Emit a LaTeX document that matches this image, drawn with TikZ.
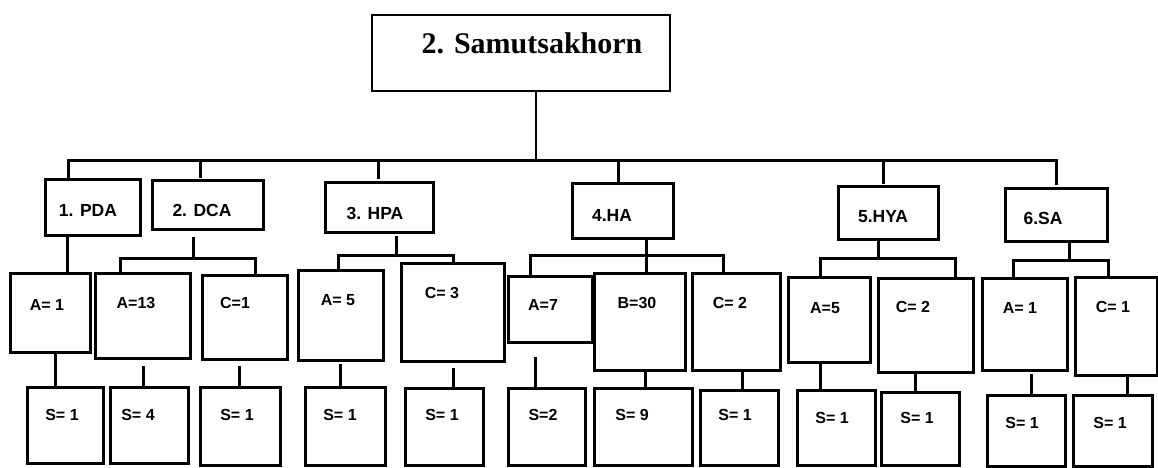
\documentclass[tikz,border=0pt]{standalone}
\usepackage{fontspec}
\setmainfont{Liberation Serif}
\newfontfamily\arial{Liberation Sans}

\begin{document}
\begin{tikzpicture}[x=1pt, y=-1pt]
          \tikzstyle{box} = [rectangle, draw, line width=3pt, inner sep=0pt, outer sep=0pt]
          \tikzstyle{lbl} = [inner sep=0pt, font=\arial\bfseries\fontsize{16}{19}\selectfont]
          \tikzstyle{link} = [line width=3pt, line cap=rect]

          \useasboundingbox (0,0) rectangle (1158,468);

          % Caja principal
          \node[box, line width=2.4pt, minimum width=298pt, minimum height=76pt] (top) at (521,53) {};
          \node[inner sep=0pt, font=\bfseries\fontsize{30}{30}\selectfont] (top-t) at (532,43) {2. Samutsakhorn};

          % Primer nivel
          \foreach \nm/\xa/\ya/\xb/\yb/\tx/\ty/\txt in {
              pda/45/179/140/235/88/210/{1. PDA}, dca/152/180/263/229/202/210/{2. DCA},
              hpa/325/182/433/232/375/213/{3. HPA}, ha/572/183/673/238/612/215/{4.HA},
              hya/838/186/938/239/883/217/{5.HYA}, sa/1005/188/1107/241/1043/218/{6.SA}}
          {
            \node[box, minimum width={(\xb-\xa)*1pt}, minimum height={(\yb-\ya)*1pt}] (\nm) at ({(\xa+\xb)/2},{(\ya+\yb)/2}) {};
            \node[lbl, font=\arial\bfseries\fontsize{17.5}{20}\selectfont] (\nm-t) at (\tx,\ty) {\txt};
          }

          % Segundo nivel
          \foreach \nm/\xa/\ya/\xb/\yb/\tx/\ty/\txt in {
              a1/10/273/90/352/47/305/{A= 1}, a13/95/273/190/358/136/303/{A=13},
              c1/202/275/287/359/235/303/{C=1}, a5/298/270/383/360/338/300/{A= 5},
              c3/401/263/504/361/442/293/{C= 3}, a7/508/276/592/342/543/305/{A=7},
              b30/594/273/685/370/637/303/{B=30}, c2/692/273/780/370/730/303/{C= 2},
              a5b/788/277/870/362/825/308/{A=5}, c2b/878/278/973/372/913/307/{C= 2},
              a1b/982/278/1067/370/1020/308/{A= 1}, c1b/1075/277/1157/375/1113/307/{C= 1}}
          {
            \node[box, minimum width={(\xb-\xa)*1pt}, minimum height={(\yb-\ya)*1pt}] (\nm) at ({(\xa+\xb)/2},{(\ya+\yb)/2}) {};
            \node[lbl] (\nm-t) at (\tx,\ty) {\txt};
          }

          % Tercer nivel
          \foreach \nm/\xa/\ya/\xb/\yb/\tx/\ty/\txt in {
              s1/27/387/103/463/62/415/{S= 1}, s2/110/387/188/463/138/415/{S= 4},
              s3/200/387/280/465/237/415/{S= 1}, s4/305/387/385/465/340/415/{S= 1},
              s5/405/388/483/465/442/415/{S= 1}, s6/508/388/585/465/543/415/{S=2},
              s7/594/388/692/465/632/415/{S= 9}, s8/700/390/778/465/735/415/{S= 1},
              s9/797/390/875/465/832/418/{S= 1}, s10/881/392/959/465/917/418/{S= 1},
              s11/987/395/1065/466/1022/423/{S= 1}, s12/1073/395/1152/466/1110/423/{S= 1}}
          {
            \node[box, minimum width={(\xb-\xa)*1pt}, minimum height={(\yb-\ya)*1pt}] (\nm) at ({(\xa+\xb)/2},{(\ya+\yb)/2}) {};
            \node[lbl] (\nm-t) at (\tx,\ty) {\txt};
          }

          % Tronco y barra horizontal
          \coordinate (trunk) at (536,160);
          \coordinate (bus-l) at (68,160);
          \coordinate (bus-r) at (1056,160);
          \draw[link, line width=2.4pt] (top.south -| trunk) -- (trunk);
          \draw[link] (bus-l) -- (bus-r);
          \foreach \nm/\x/\gap in {pda/68/0, dca/200/4, hpa/378/5, ha/618/3, hya/883/4, sa/1056/5}
            \draw[link, shorten >=\gap pt] (bus-l -| \x,0) -- (\nm.north -| \x,0);

          % Conexiones al segundo nivel
          \draw[link] (pda.south -| 67,0) -- (a1.north -| 67,0);
          \foreach \up/\l/\r/\xl/\xr/\xs/\yb/\gap in {
              dca/a13/c1/120/255/193/258/9, hpa/a5/c3/338/453/396/255/5,
              ha/a7/c2/530/723/646/255/0, hya/a5b/c2b/820/955/878/258/0,
              sa/a1b/c1b/1013/1108/1069/260/0}
          {
            \coordinate (\up-j) at (\xs,\yb);
            \draw[link, shorten <=\gap pt] (\up.south -| \up-j) -- (\up-j);
            \draw[link] (\l.north -| \xl,0) |- (\up-j) -| (\r.north -| \xr,0);
          }
          \draw[link] (ha-j) -- (b30.north -| ha-j);

          % Conexiones al tercer nivel
          \foreach \up/\dn/\x/\gap in {a1/s1/55/0, a13/s2/143/9, c1/s3/239/8, a5/s4/340/5,
              c3/s5/453/8, a7/s6/535/16, b30/s7/645/0, c2/s8/742/0, a5b/s9/820/0,
              c2b/s10/915/0, a1b/s11/1031/5, c1b/s12/1127/0}
            \draw[link, shorten <=\gap pt] (\up.south -| \x,0) -- (\dn.north -| \x,0);
        \end{tikzpicture}
\end{document}
